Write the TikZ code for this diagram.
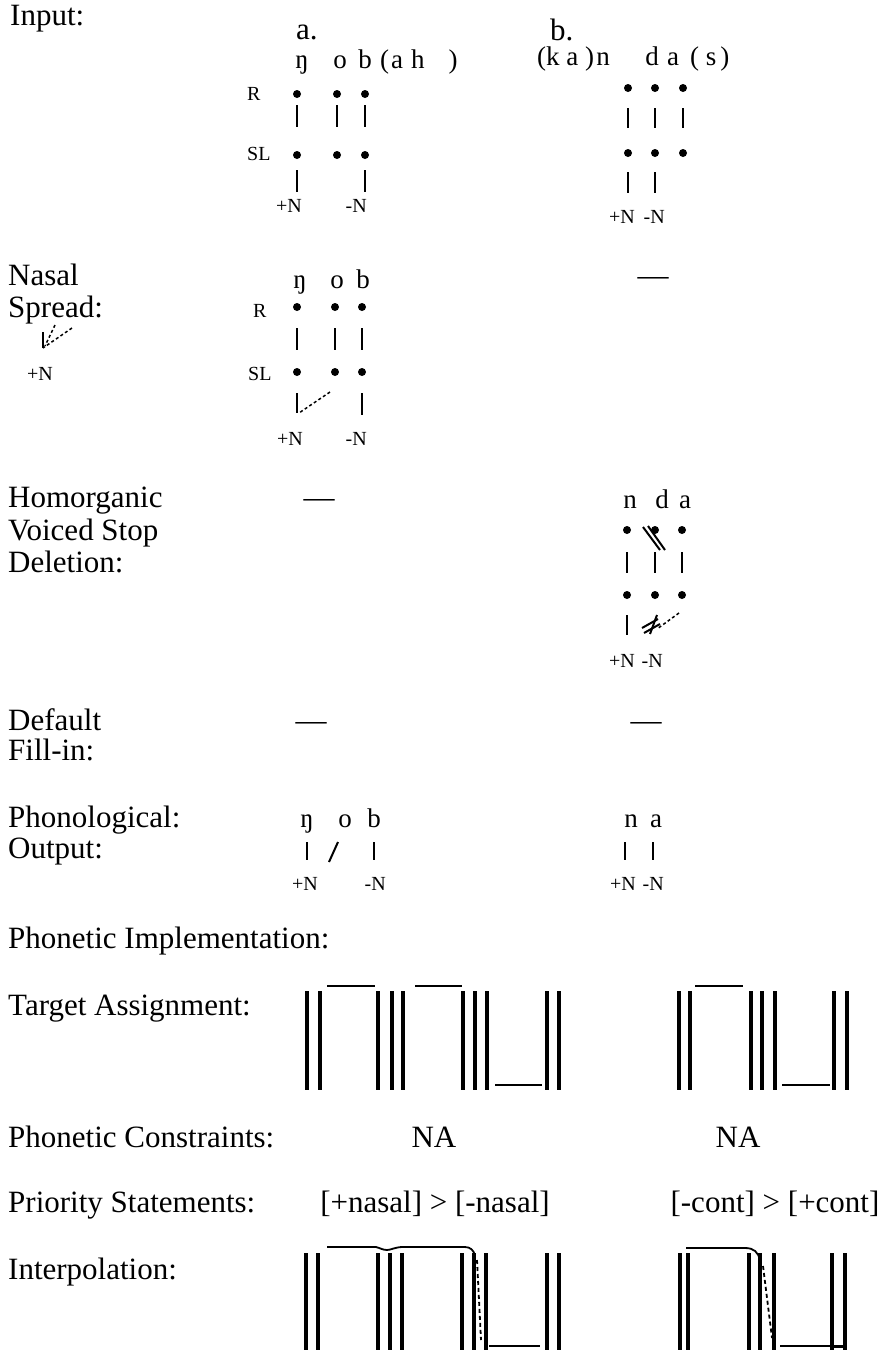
\documentclass[tikz,border=0pt]{standalone}
\usepackage{fontspec}
\setmainfont{Liberation Serif}
\usepackage{tikz}
\usetikzlibrary{positioning}
\newcommand{\lblfont}{\fontsize{31}{33}\selectfont}
\newcommand{\segfont}{\fontsize{27}{29}\selectfont}
\newcommand{\tierfont}{\fontsize{20}{22}\selectfont}

\begin{document}
\begin{tikzpicture}[
    x=1pt, y=-1pt,
    lbl/.style={anchor=base west, font=\lblfont, inner sep=0pt},
    seg/.style={anchor=base, font=\segfont, inner sep=0pt},
    tier/.style={font=\tierfont, inner sep=0pt},
    dot/.style={circle, fill, inner sep=0pt, minimum size=8pt},
    assoc/.style={line width=2pt},
    spread/.style={line width=1.5pt, dash pattern=on 3pt off 2.5pt},
    gesture/.style={line width=3.2pt},
    target/.style={line width=1.8pt},
]
\useasboundingbox (0,0) rectangle (883,1353);

%--- Row labels ---
\node[lbl] (input)  at (10,25)   {Input:};
\node[lbl] (nasal1) at (8,285)   {Nasal};
\node[lbl] (nasal2) at (8,317)   {Spread:};
\node[lbl] (hvsd1)  at (8,507)   {Homorganic};
\node[lbl] (hvsd2)  at (8,540)   {Voiced Stop};
\node[lbl] (hvsd3)  at (8,572)   {Deletion:};
\node[lbl] (fill1)  at (8,730)   {Default};
\node[lbl] (fill2)  at (8,760)   {Fill-in:};
\node[lbl] (out1)   at (8,827)   {Phonological:};
\node[lbl] (out2)   at (8,858)   {Output:};
\node[lbl] (impl)   at (8,948)   {Phonetic Implementation:};
\node[lbl] (targ)   at (8,1015)  {Target Assignment:};
\node[lbl] (cons)   at (8,1147)  {Phonetic Constraints:};
\node[lbl] (prio)   at (8,1212)  {Priority Statements:};
\node[lbl] (interp) at (8,1279)  {Interpolation:};

\node[lbl] (heada) at (296,39) {a.};
\node[lbl] (headb) at (550,40) {b.};

%============================================================
% Input, column a
%============================================================
\node[seg] (ia-ng) at (302,68) {ŋ};
\node[seg] (ia-o)  at (340,68) {o};
\node[seg] (ia-b)  at (365,68) {b};
\node[seg, anchor=base west] (ia-post) at (380,68) {(\hspace{2pt}a\hspace{8pt}h\hspace{24pt})};
\node[tier, anchor=base west] (ia-R)  at (247,100) {R};
\node[tier, anchor=base west] (ia-SL) at (247,160) {SL};
\foreach \n/\x in {1/297, 2/337, 3/365} {
    \node[dot] (ia-r\n) at (\x,94) {};
    \node[dot] (ia-s\n) at (\x,155) {};
    \draw[assoc, shorten <=7pt, shorten >=24pt] (ia-r\n) -- (ia-s\n);
}
\node[tier, anchor=base east] (ia-pN) at (302,212) {+N};
\node[tier, anchor=base east] (ia-mN) at (367,212) {-N};
\draw[assoc, shorten <=11pt, shorten >=20pt] (ia-s1) -- (ia-s1 |- ia-pN.base);
\draw[assoc, shorten <=11pt, shorten >=20pt] (ia-s3) -- (ia-s3 |- ia-mN.base);

%============================================================
% Input, column b
%============================================================
\node[seg, anchor=base west] (ib-pre) at (537,65) {(k a )};
\node[seg] (ib-n) at (603,65) {n};
\node[seg] (ib-d) at (652,65) {d};
\node[seg] (ib-a) at (673,65) {a};
\node[seg, anchor=base west] (ib-post) at (690,65) {( s\hspace{4pt})};
\foreach \n/\x in {1/628, 2/655, 3/683} {
    \node[dot] (ib-r\n) at (\x,88) {};
    \node[dot] (ib-s\n) at (\x,153) {};
    \draw[assoc, shorten <=16pt, shorten >=21pt] (ib-r\n) -- (ib-s\n);
}
\node[tier, anchor=base east] (ib-pN) at (635,223) {+N};
\node[tier, anchor=base east] (ib-mN) at (665,223) {-N};
\draw[assoc, shorten <=15pt, shorten >=30pt] (ib-s1) -- (ib-s1 |- ib-pN.base);
\draw[assoc, shorten <=15pt, shorten >=30pt] (ib-s2) -- (ib-s2 |- ib-mN.base);

%============================================================
% Nasal Spread
%============================================================
% rule schema
\node[tier, anchor=base east] (ns-pN) at (53,380) {+N};
\coordinate (ns-tip) at (43,348);
\draw[assoc] (43,332) -- (ns-tip);
\draw[spread] (72,328) -- (ns-tip);
\draw[spread] (55,325) -- (45,346);

% column a
\node[seg] (ns-ng) at (300,288) {ŋ};
\node[seg] (ns-o)  at (337,288) {o};
\node[seg] (ns-b)  at (363,288) {b};
\node[tier, anchor=base west] (ns-R)  at (253,317) {R};
\node[tier, anchor=base west] (ns-SL) at (248,380) {SL};
\foreach \n/\x in {1/297, 2/335, 3/362} {
    \node[dot] (ns-r\n) at (\x,307) {};
    \node[dot] (ns-s\n) at (\x,372) {};
    \draw[assoc, shorten <=17pt, shorten >=18pt] (ns-r\n) -- (ns-s\n);
}
\node[tier, anchor=base east] (ns-aN) at (303,445) {+N};
\node[tier, anchor=base east] (ns-mN) at (367,445) {-N};
\draw[assoc, shorten <=17pt, shorten >=32pt] (ns-s1) -- (ns-s1 |- ns-aN.base);
\draw[assoc, shorten <=17pt, shorten >=30pt] (ns-s3) -- (ns-s3 |- ns-mN.base);
\coordinate (ns-from) at (330,392);
\coordinate (ns-hook) at (299,413);
\draw[spread] (ns-from) -- (ns-hook);

% column b
\node[lbl, anchor=base] (ns-none) at (653,285) {—};

%============================================================
% Homorganic Voiced Stop Deletion
%============================================================
\node[lbl, anchor=base] (hv-none) at (319,507) {—};

\node[seg] (hv-n) at (630,508) {n};
\node[seg] (hv-d) at (662,508) {d};
\node[seg] (hv-a) at (685,508) {a};
\foreach \n/\x in {1/627, 2/655, 3/682} {
    \node[dot] (hv-r\n) at (\x,530) {};
    \node[dot] (hv-s\n) at (\x,595) {};
    \draw[assoc, shorten <=18pt, shorten >=18pt] (hv-r\n) -- (hv-s\n);
}
% delinking marks
\draw[assoc] (643,527) -- (660,550);
\draw[assoc] (648,526) -- (665,550);
\node[tier, anchor=base east] (hv-pN) at (635,667) {+N};
\node[tier, anchor=base east] (hv-mN) at (663,667) {-N};
\draw[assoc, shorten <=16pt, shorten >=32pt] (hv-s1) -- (hv-s1 |- hv-pN.base);
\draw[assoc] (657,615) -- (650,634);
\draw[assoc] (642,628) -- (658,619);
\draw[assoc] (644,633) -- (660,624);
\coordinate (hv-from) at (679,613);
\coordinate (hv-to)   at (657,629);
\draw[spread] (hv-from) -- (hv-to);

%============================================================
% Default Fill-in
%============================================================
\node[lbl, anchor=base] (df-a) at (311,730) {—};
\node[lbl, anchor=base] (df-b) at (646,730) {—};

%============================================================
% Phonological Output
%============================================================
\node[seg] (po-ng) at (307,827) {ŋ};
\node[seg] (po-o)  at (345,827) {o};
\node[seg] (po-b)  at (374,827) {b};
\node[tier, anchor=base east] (po-pN) at (318,890) {+N};
\node[tier, anchor=base east] (po-mN) at (386,890) {-N};
\draw[assoc, shorten <=15pt, shorten >=30pt] (po-ng.base) -- (po-ng.base |- po-pN.base);
\draw[assoc, shorten <=15pt, shorten >=30pt] (po-b.base) -- (po-b.base |- po-mN.base);
\coordinate (po-top) at (338,842);
\coordinate (po-bot) at (329,862);
\draw[assoc] (po-top) -- (po-bot);

\node[seg] (pb-n) at (631,827) {n};
\node[seg] (pb-a) at (656,827) {a};
\node[tier, anchor=base east] (pb-pN) at (636,890) {+N};
\node[tier, anchor=base east] (pb-mN) at (664,890) {-N};
\draw[assoc, shorten <=15pt, shorten >=30pt] (625,827) -- (625,890);
\draw[assoc, shorten <=15pt, shorten >=30pt] (653,827) -- (653,890);

%============================================================
% Target Assignment
%============================================================
\foreach \x in {307,320,378,392,403,463,475,487,547,559,679,690,751,762,775,834,847}
    \draw[gesture] (\x,991) -- (\x,1090);
\draw[target] (327,986) -- (375,986);
\draw[target] (415,986) -- (462,986);
\draw[target] (495,1085) -- (542,1085);
\draw[target] (695,986) -- (743,986);
\draw[target] (782,1085) -- (830,1085);

%--- constraints and priorities ---
\node[lbl, anchor=base] (na-a) at (434,1147) {NA};
\node[lbl, anchor=base] (na-b) at (738,1147) {NA};
\node[lbl, anchor=base] (pr-a) at (435,1212) {[+nasal] > [-nasal]};
\node[lbl, anchor=base] (pr-b) at (775,1212) {[-cont] > [+cont]};

%============================================================
% Interpolation
%============================================================
\foreach \x in {306,318,378,390,402,462,474,486,547,559,680,688,749,760,774,832,845}
    \draw[gesture] (\x,1253) -- (\x,1350);
\draw[target] (327,1247) -- (376,1247)
    .. controls (380,1248) and (383,1250) .. (387,1250)
    .. controls (391,1250) and (395,1247) .. (403,1247) -- (465,1247)
    .. controls (470,1247) and (474,1250) .. (475,1256);
\draw[target, dash pattern=on 4pt off 3pt] (477,1260) -- (481,1340);
\draw[target] (489,1346) -- (540,1346);
\draw[target] (686,1248) -- (745,1248)
    .. controls (754,1248) and (758,1252) .. (760,1260);
\draw[target, dash pattern=on 4pt off 3pt] (763,1266) -- (772,1338);
\draw[target] (780,1346) -- (830,1346);
\draw[target, line width=3pt] (832,1346) -- (845,1346);

\end{tikzpicture}
\end{document}
